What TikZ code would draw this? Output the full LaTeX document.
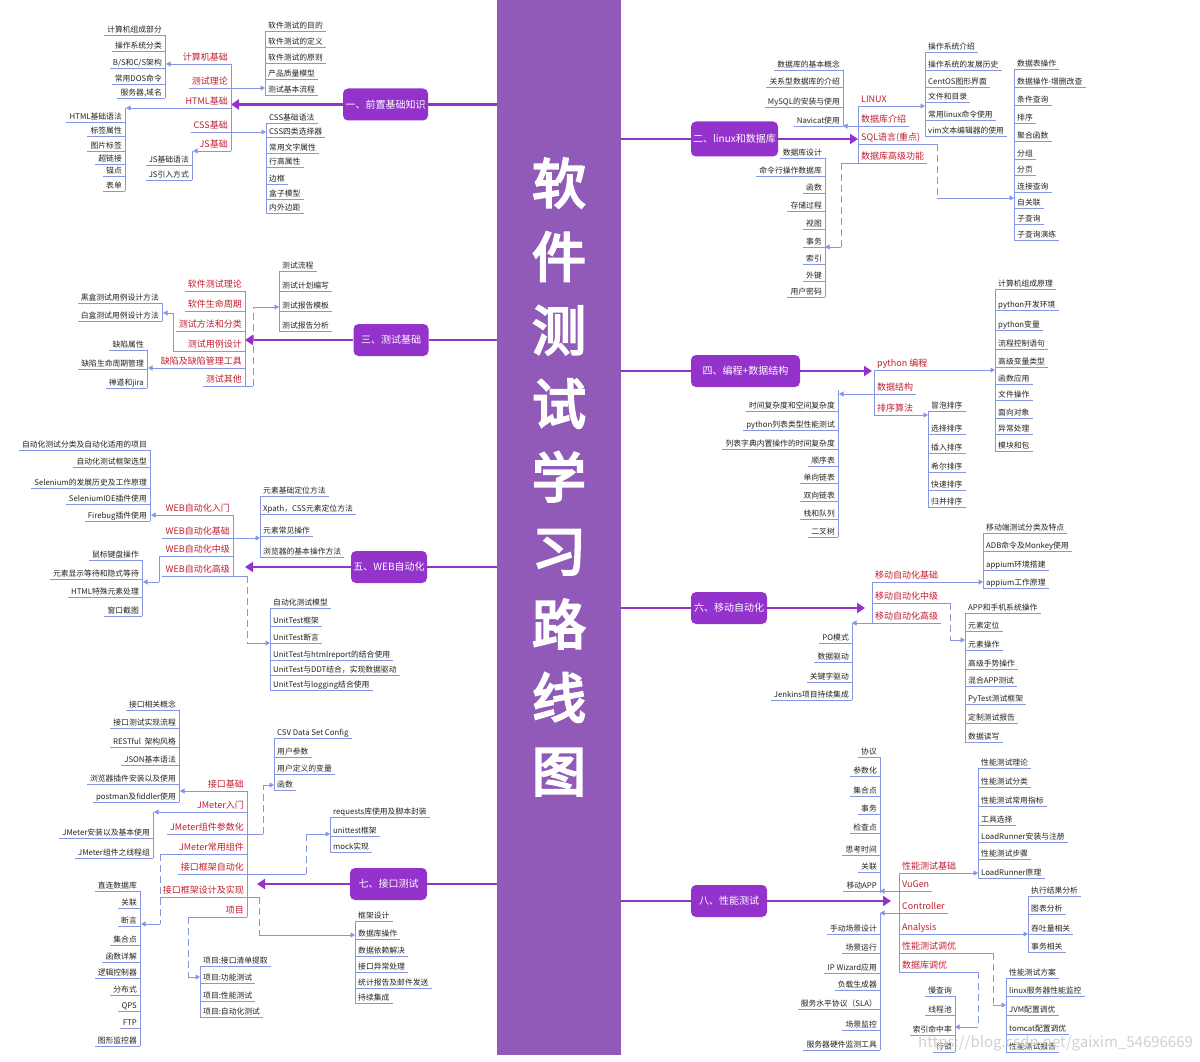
\documentclass[tikz,border=0pt]{standalone}
\usepackage{fontspec}
\setmainfont{Noto Sans CJK SC}
\newfontfamily\titlefont[FakeBold=4]{Noto Sans CJK SC}
\usetikzlibrary{arrows.meta}
\definecolor{bannerc}{RGB}{145,90,185}
\definecolor{boxc}{RGB}{148,50,204}
\definecolor{linec}{RGB}{135,150,228}
\definecolor{redc}{RGB}{192,32,48}
\definecolor{leafc}{RGB}{35,35,35}
\newcounter{nd}
\newcommand\leafl[3]{\stepcounter{nd}\edef\nn{n\arabic{nd}}%
  \node[leaf,anchor=south east] (\nn) at (#1,#2) {#3};
  \draw[ul] (\nn.south east) -- (\nn.south west);}
\newcommand\leafr[3]{\stepcounter{nd}\edef\nn{n\arabic{nd}}%
  \node[leaf,anchor=south west] (\nn) at (#1,#2) {#3};
  \draw[ul] (\nn.south west) -- (\nn.south east);}
\newcommand\redlab[5]{\node[redl,anchor=#2] (#1) at (#3,#4) {#5};
  \draw[ul] (#1.south west) -- (#1.south east);}
\newcommand\vbar[3]{\draw[ul] (#1,#2) -- (#1,#3);}
\newcommand\elb[5]{\coordinate (v#5) at (#3,0);
  \draw[ul] (#2) -- (#2 -| v#5);
  \draw[ul,#1] (#2 -| v#5) -- (v#5 |- #4);
  \draw[conn] (v#5 |- #4) -- (#4);}
\begin{document}
\begin{tikzpicture}[x=1pt,y=-1pt,
  leaf/.style={font=\fontsize{7.8}{9}\selectfont, text=leafc, inner xsep=3pt, inner ysep=1pt, text height=6pt, text depth=1.5pt},
  redl/.style={font=\fontsize{9}{11}\selectfont, text=redc, inner xsep=3pt, inner ysep=1.5pt, text height=7pt, text depth=2pt},
  ul/.style={draw=linec, line width=0.9pt},
  conn/.style={ul, -{Triangle[length=4.5pt,width=5pt]}},
  dsh/.style={dash pattern=on 7pt off 4pt},
  sld/.style={},
  mainline/.style={draw=boxc, line width=2.4pt},
  mainarrow/.style={draw=boxc, line width=2.6pt, -{Triangle[length=8pt,width=10pt]}},
  branch/.style={fill=boxc, rounded corners=5pt, text=white, font=\fontsize{10}{12}\selectfont, minimum height=32pt, inner xsep=2pt}
]
\useasboundingbox (0,0) rectangle (1200,1062);
\fill[white] (0,0) rectangle (1200,1062);
\node[fill=bannerc,anchor=north west,minimum width=124pt,minimum height=1055pt,inner sep=0pt] (banner) at (497,0) {};
\node[text=white,font=\titlefont\fontsize{54}{73.5}\selectfont,align=center,inner sep=0pt] (title) at (559,477) {软\\件\\测\\试\\学\\习\\路\\线\\图};

% ===== Branch 1
\node[branch,minimum width=85pt] (B1) at (385.5,104.5) {一、前置基础知识};
\draw[mainline] (B1.east) -- (B1.east -| banner.west);
\coordinate (s1) at (231,104.5);
\draw[mainarrow] (B1.west) -- (s1);
\redlab{r11}{south east}{231}{64}{计算机基础}
\redlab{r12}{south east}{231}{88}{测试理论}
\redlab{r13}{south east}{231}{108}{HTML基础}
\redlab{r14}{south east}{231}{132}{CSS基础}
\redlab{r15}{south east}{231}{151}{JS基础}
\draw[ul] (r11.south east) -- (r15.south east);
\coordinate (t1) at (166,64); \coordinate (t2) at (265,88); \coordinate (t3) at (126,108);
\coordinate (t4) at (266,132); \coordinate (t5) at (193,151);
\draw[conn] (r11.south east) -- (t1);
\draw[conn] (r12.south west) -- (t2);
\draw[conn] (r13.south east) -- (t3);
\draw[conn] (r14.south west) -- (t4);
\draw[conn] (r15.south east) -- (t5);
\leafl{165}{35}{计算机组成部分}
\leafl{165}{51}{操作系统分类}
\leafl{165}{68}{B/S和C/S架构}
\leafl{165}{84}{常用DOS命令}
\leafl{165}{98}{服务器,域名}
\vbar{165}{35}{98}
\leafr{265}{31}{软件测试的目的}
\leafr{265}{47}{软件测试的定义}
\leafr{265}{63}{软件测试的原则}
\leafr{265}{79}{产品质量模型}
\leafr{265}{95}{测试基本流程}
\vbar{265}{31}{95}
\leafl{125}{122}{HTML基础语法}
\leafl{125}{136}{标签属性}
\leafl{125}{151}{图片标签}
\leafl{125}{164}{超链接}
\leafl{125}{176}{锚点}
\leafl{125}{191}{表单}
\vbar{125}{108}{191}
\leafr{266}{123}{CSS基础语法}
\leafr{266}{137}{CSS四类选择器}
\leafr{266}{153}{常用文字属性}
\leafr{266}{167}{行高属性}
\leafr{266}{184}{边框}
\leafr{266}{199}{盒子模型}
\leafr{266}{213}{内外边距}
\vbar{266}{123}{213}
\leafl{192}{165}{JS基础语法}
\leafl{192}{180}{JS引入方式}
\vbar{192}{151}{180}

% ===== Branch 3
\node[branch,minimum width=75pt] (B3) at (391,340) {三、测试基础};
\draw[mainline] (B3.east) -- (B3.east -| banner.west);
\coordinate (s3) at (245,340);
\draw[mainarrow] (B3.west) -- (s3);
\redlab{r31}{south east}{245}{291}{软件测试理论}
\redlab{r32}{south east}{245}{311}{软件生命周期}
\redlab{r33}{south east}{245}{331}{测试方法和分类}
\redlab{r34}{south east}{245}{351}{测试用例设计}
\redlab{r35}{south east}{245}{368}{缺陷及缺陷管理工具}
\redlab{r36}{south east}{245}{386}{测试其他}
\draw[ul] (r31.south east) -- (r36.south east);
\coordinate (t6) at (279,307); \coordinate (t7) at (163,313); \coordinate (t8) at (148,368);
\elb{dsh}{r36.south east}{253}{t6}{a}
\elb{sld}{r34.south west}{173}{t7}{b}
\draw[conn] (r35.south east) -- (t8);
\leafr{279}{271}{测试流程}
\leafr{279}{291}{测试计划编写}
\leafr{279}{311}{测试报告模板}
\leafr{279}{331}{测试报告分析}
\vbar{279}{271}{331}
\leafl{162}{303}{黑盒测试用例设计方法}
\leafl{162}{321}{白盒测试用例设计方法}
\vbar{162}{303}{321}
\leafl{147}{350}{缺陷属性}
\leafl{147}{369}{缺陷生命周期管理}
\leafl{147}{388}{禅道和jira}
\vbar{147}{350}{388}

% ===== Branch 5
\node[branch,minimum width=76pt] (B5) at (389,567) {五、WEB自动化};
\draw[mainline] (B5.east) -- (B5.east -| banner.west);
\coordinate (s5) at (245,567);
\draw[mainarrow] (B5.west) -- (s5);
\redlab{r51}{south east}{233}{515}{WEB自动化入门}
\redlab{r52}{south east}{233}{538}{WEB自动化基础}
\redlab{r53}{south east}{233}{556}{WEB自动化中级}
\redlab{r54}{south east}{233}{576}{WEB自动化高级}
\draw[ul] (r51.south east) -- (r54.south east);
\coordinate (t9) at (151,515); \coordinate (t10) at (260,538);
\coordinate (t11) at (143,582); \coordinate (t12) at (270,643);
\draw[conn] (r51.south east) -- (t9);
\draw[conn] (r52.south west) -- (t10);
\elb{sld}{r53.south west}{159}{t11}{c}
\elb{dsh}{r54.south east}{247}{t12}{d}
\leafl{150}{450}{自动化测试分类及自动化适用的项目}
\leafl{150}{467}{自动化测试框架选型}
\leafl{150}{488}{Selenium的发展历史及工作原理}
\leafl{150}{504}{SeleniumIDE插件使用}
\leafl{150}{521}{Firebug插件使用}
\vbar{150}{450}{521}
\leafr{260}{496}{元素基础定位方法}
\leafr{260}{514}{Xpath，CSS元素定位方法}
\leafr{260}{536}{元素常见操作}
\leafr{260}{557}{浏览器的基本操作方法}
\vbar{260}{496}{557}
\leafl{142}{560}{鼠标键盘操作}
\leafl{142}{579}{元素显示等待和隐式等待}
\leafl{142}{597}{HTML特殊元素处理}
\leafl{142}{616}{窗口截图}
\vbar{142}{560}{616}
\leafr{270}{608}{自动化测试模型}
\leafr{270}{626}{UnitTest框架}
\leafr{270}{643}{UnitTest断言}
\leafr{270}{660}{UnitTest与htmlreport的结合使用}
\leafr{270}{675}{UnitTest与DDT结合，实现数据驱动}
\leafr{270}{690}{UnitTest与logging结合使用}
\vbar{270}{608}{690}

% ===== Branch 7
\node[branch,minimum width=77pt] (B7) at (388.5,884) {七、接口测试};
\draw[mainline] (B7.east) -- (B7.east -| banner.west);
\coordinate (s7) at (257,884);
\draw[mainarrow] (B7.west) -- (s7);
\redlab{r71}{south east}{247}{791}{接口基础}
\redlab{r72}{south east}{247}{812}{JMeter入门}
\redlab{r73}{south east}{247}{834}{JMeter组件参数化}
\redlab{r74}{south east}{247}{854}{JMeter常用组件}
\redlab{r75}{south east}{247}{874}{接口框架自动化}
\redlab{r76}{south east}{247}{897}{接口框架设计及实现}
\redlab{r77}{south east}{247}{917}{项目}
\draw[ul] (r71.south east) -- (r77.south east);
\coordinate (t13) at (180,791); \coordinate (t14) at (154,812); \coordinate (t15) at (274,785);
\coordinate (t16) at (141,924); \coordinate (t17) at (330,834); \coordinate (t18) at (355,935);
\coordinate (t19) at (200,977);
\draw[conn] (r71.south east) -- (t13);
\draw[conn] (r72.south east) -- (t14);
\elb{dsh}{r73.south east}{263}{t15}{e}
\elb{dsh}{r74.south west}{160}{t16}{f}
\elb{dsh}{r75.south east}{306}{t17}{g}
\elb{dsh}{r76.south east}{259}{t18}{h}
\elb{dsh}{r77.south west}{188}{t19}{i}
\leafl{179}{710}{接口相关概念}
\leafl{179}{728}{接口测试实现流程}
\leafl{179}{747}{RESTful~~架构风格}
\leafl{179}{765}{JSON基本语法}
\leafl{179}{784}{浏览器插件安装以及使用}
\leafl{179}{802}{postman及fiddler使用}
\vbar{179}{710}{802}
\leafl{153}{838}{JMeter安装以及基本使用}
\leafl{153}{858}{JMeter组件之线程组}
\vbar{153}{812}{858}
\leafr{274}{738}{CSV Data Set Config}
\leafr{274}{757}{用户参数}
\leafr{274}{774}{用户定义的变量}
\leafr{274}{790}{函数}
\vbar{274}{738}{790}
\leafl{140}{891}{直连数据库}
\leafl{140}{908}{关联}
\leafl{140}{926}{断言}
\leafl{140}{945}{集合点}
\leafl{140}{962}{函数详解}
\leafl{140}{978}{逻辑控制器}
\leafl{140}{995}{分布式}
\leafl{140}{1011}{QPS}
\leafl{140}{1028}{FTP}
\leafl{140}{1046}{图形监控器}
\vbar{140}{891}{1046}
\leafr{330}{817}{requests库使用及脚本封装}
\leafr{330}{836}{unittest框架}
\leafr{330}{852}{mock实现}
\vbar{330}{817}{852}
\leafr{355}{921}{框架设计}
\leafr{355}{939}{数据库操作}
\leafr{355}{956}{数据依赖解决}
\leafr{355}{972}{接口异常处理}
\leafr{355}{988}{统计报告及邮件发送}
\leafr{355}{1003}{持续集成}
\vbar{355}{921}{1003}
\leafr{200}{966}{项目:接口清单提取}
\leafr{200}{983}{项目:功能测试}
\leafr{200}{1001}{项目:性能测试}
\leafr{200}{1017}{项目:自动化测试}
\vbar{200}{966}{1017}

% ===== Branch 2
\node[branch,minimum width=87pt,minimum height=35pt] (B2) at (734.5,139) {二、linux和数据库};
\draw[mainline] (B2.west) -- (B2.west -| banner.east);
\coordinate (s2) at (858,139);
\draw[mainarrow] (B2.east) -- (s2);
\redlab{r21}{south west}{858}{106}{LINUX}
\redlab{r22}{south west}{858}{126}{数据库介绍}
\redlab{r23}{south west}{858}{144}{SQL语言(重点)}
\redlab{r24}{south west}{858}{163}{数据库高级功能}
\draw[ul] (r21.south west) -- (r24.south west);
\coordinate (t20) at (925,106); \coordinate (t21) at (843,126);
\coordinate (t22) at (1014,198); \coordinate (t23) at (825,247);
\draw[conn] (r21.south west) -- (t20);
\draw[conn] (r22.south east) -- (t21);
\elb{dsh}{r23.south east}{937}{t22}{j}
\elb{dsh}{r24.south west}{841}{t23}{k}
\leafr{925}{52}{操作系统介绍}
\leafr{925}{70}{操作系统的发展历史}
\leafr{925}{87}{CentOS图形界面}
\leafr{925}{102}{文件和目录}
\leafr{925}{120}{常用linux命令使用}
\leafr{925}{136}{vim文本编辑器的使用}
\vbar{925}{52}{136}
\leafl{843}{70}{数据库的基本概念}
\leafl{843}{87}{关系型数据库的介绍}
\leafl{843}{107}{MySQL的安装与使用}
\leafl{843}{126}{Navicat使用}
\vbar{843}{70}{126}
\leafr{1014}{69}{数据表操作}
\leafr{1014}{87}{数据操作-增删改查}
\leafr{1014}{105}{条件查询}
\leafr{1014}{123}{排序}
\leafr{1014}{141}{聚合函数}
\leafr{1014}{159}{分组}
\leafr{1014}{175}{分页}
\leafr{1014}{192}{连接查询}
\leafr{1014}{208}{自关联}
\leafr{1014}{224}{子查询}
\leafr{1014}{240}{子查询演练}
\vbar{1014}{69}{240}
\leafl{825}{158}{数据库设计}
\leafl{825}{176}{命令行操作数据库}
\leafl{825}{193}{函数}
\leafl{825}{211}{存储过程}
\leafl{825}{229}{视图}
\leafl{825}{247}{事务}
\leafl{825}{264}{索引}
\leafl{825}{281}{外键}
\leafl{825}{297}{用户密码}
\vbar{825}{158}{297}

% ===== Branch 4
\node[branch,minimum width=109pt] (B4) at (745.5,371) {四、编程+数据结构};
\draw[mainline] (B4.west) -- (B4.west -| banner.east);
\coordinate (s4) at (872,371);
\draw[mainarrow] (B4.east) -- (s4);
\redlab{r41}{south west}{874}{370}{python 编程}
\redlab{r42}{south west}{874}{394}{数据结构}
\redlab{r43}{south west}{874}{415}{排序算法}
\draw[ul] (r41.south west) -- (r43.south west);
\coordinate (t24) at (995,370); \coordinate (t25) at (839,394); \coordinate (t26) at (928,415);
\draw[conn] (r41.south west) -- (t24);
\draw[conn] (r42.south east) -- (t25);
\draw[conn] (r43.south west) -- (t26);
\leafr{995}{289}{计算机组成原理}
\leafr{995}{310}{python开发环境}
\leafr{995}{330}{python变量}
\leafr{995}{349}{流程控制语句}
\leafr{995}{367}{高级变量类型}
\leafr{995}{384}{函数应用}
\leafr{995}{400}{文件操作}
\leafr{995}{418}{面向对象}
\leafr{995}{434}{异常处理}
\leafr{995}{451}{模块和包}
\vbar{995}{289}{451}
\leafl{838}{411}{时间复杂度和空间复杂度}
\leafl{838}{430}{python列表类型性能测试}
\leafl{838}{449}{列表字典内置操作的时间复杂度}
\leafl{838}{466}{顺序表}
\leafl{838}{483}{单向链表}
\leafl{838}{501}{双向链表}
\leafl{838}{519}{栈和队列}
\leafl{838}{537}{二叉树}
\vbar{838}{390}{537}
\leafr{928}{411}{冒泡排序}
\leafr{928}{434}{选择排序}
\leafr{928}{453}{插入排序}
\leafr{928}{472}{希尔排序}
\leafr{928}{490}{快速排序}
\leafr{928}{507}{归并排序}
\vbar{928}{411}{507}

% ===== Branch 6
\node[branch,minimum width=76pt] (B6) at (729,608) {六、移动自动化};
\draw[mainline] (B6.west) -- (B6.west -| banner.east);
\coordinate (s6) at (865,608);
\draw[mainarrow] (B6.east) -- (s6);
\redlab{r61}{south west}{872}{582}{移动自动化基础}
\redlab{r62}{south west}{872}{603}{移动自动化中级}
\redlab{r63}{south west}{872}{623}{移动自动化高级}
\draw[ul] (r61.south west) -- (r63.south west);
\coordinate (t27) at (983,582); \coordinate (t28) at (965,640); \coordinate (t29) at (852,623);
\draw[conn] (r61.south west) -- (t27);
\elb{dsh}{r62.south east}{950}{t28}{l}
\draw[conn] (r63.south east) -- (t29);
\leafr{983}{533}{移动端测试分类及特点}
\leafr{983}{551}{ADB命令及Monkey使用}
\leafr{983}{570}{appium环境搭建}
\leafr{983}{588}{appium工作原理}
\vbar{983}{533}{588}
\leafr{965}{613}{APP和手机系统操作}
\leafr{965}{631}{元素定位}
\leafr{965}{650}{元素操作}
\leafr{965}{669}{高级手势操作}
\leafr{965}{686}{混合APP测试}
\leafr{965}{704}{PyTest测试框架}
\leafr{965}{723}{定制测试报告}
\leafr{965}{742}{数据读写}
\vbar{965}{613}{742}
\leafl{852}{643}{PO模式}
\leafl{852}{662}{数据驱动}
\leafl{852}{682}{关键字驱动}
\leafl{852}{700}{Jenkins项目持续集成}
\vbar{852}{623}{700}

% ===== Branch 8
\node[branch,minimum width=76pt] (B8) at (729,901) {八、性能测试};
\draw[mainline] (B8.west) -- (B8.west -| banner.east);
\coordinate (s8) at (891,901);
\draw[mainarrow] (B8.east) -- (s8);
\redlab{r81}{south west}{899}{873}{性能测试基础}
\redlab{r82}{south west}{899}{891}{VuGen}
\redlab{r83}{south west}{899}{913}{Controller}
\redlab{r84}{south west}{899}{934}{Analysis}
\redlab{r85}{south west}{899}{953}{性能测试调优}
\redlab{r86}{south west}{899}{972}{数据库调优}
\draw[ul] (r81.south west) -- (r86.south west);
\coordinate (t30) at (880,891); \coordinate (t31) at (880,913); \coordinate (t32) at (978,873);
\coordinate (t33) at (1028,934); \coordinate (t34) at (1006,1005); \coordinate (t35) at (955,1027);
\draw[conn] (r81.south west) -- (t32);
\draw[conn] (r82.south east) -- (t30);
\draw[conn] (r83.south east) -- (t31);
\draw[conn] (r84.south west) -- (t33);
\elb{dsh}{r85.south east}{993}{t34}{m}
\elb{dsh}{r86.south east}{978}{t35}{n}
\leafl{880}{757}{协议}
\leafl{880}{776}{参数化}
\leafl{880}{796}{集合点}
\leafl{880}{814}{事务}
\leafl{880}{833}{检查点}
\leafl{880}{855}{思考时间}
\leafl{880}{872}{关联}
\leafl{880}{891}{移动APP}
\vbar{880}{757}{893}
\leafl{880}{934}{手动场景设计}
\leafl{880}{953}{场景运行}
\leafl{880}{973}{IP Wizard应用}
\leafl{880}{990}{负载生成器}
\leafl{880}{1009}{服务水平协议（SLA）}
\leafl{880}{1030}{场景监控}
\leafl{880}{1050}{服务器硬件监测工具}
\vbar{880}{913}{1050}
\leafr{978}{768}{性能测试理论}
\leafr{978}{787}{性能测试分类}
\leafr{978}{806}{性能测试常用指标}
\leafr{978}{825}{工具选择}
\leafr{978}{842}{LoadRunner安装与注册}
\leafr{978}{859}{性能测试步骤}
\leafr{978}{878}{LoadRunner原理}
\vbar{978}{768}{878}
\leafr{1028}{896}{执行结果分析}
\leafr{1028}{914}{图表分析}
\leafr{1028}{934}{吞吐量相关}
\leafr{1028}{952}{事务相关}
\vbar{1028}{896}{952}
\leafr{1006}{978}{性能测试方案}
\leafr{1006}{996}{linux服务器性能监控}
\leafr{1006}{1015}{JVM配置调优}
\leafr{1006}{1034}{tomcat配置调优}
\leafr{1006}{1052}{性能测试报告}
\vbar{1006}{978}{1052}
\leafl{955}{996}{慢查询}
\leafl{955}{1015}{线程池}
\leafl{955}{1035}{索引命中率}
\leafl{955}{1052}{行锁}
\vbar{955}{996}{1052}

\node[text=black!18,font=\fontsize{15}{15}\selectfont,anchor=west,inner sep=0pt] (wm) at (918,1043) {https://blog.csdn.net/gaixim\_54696669};
\end{tikzpicture}
\end{document}
